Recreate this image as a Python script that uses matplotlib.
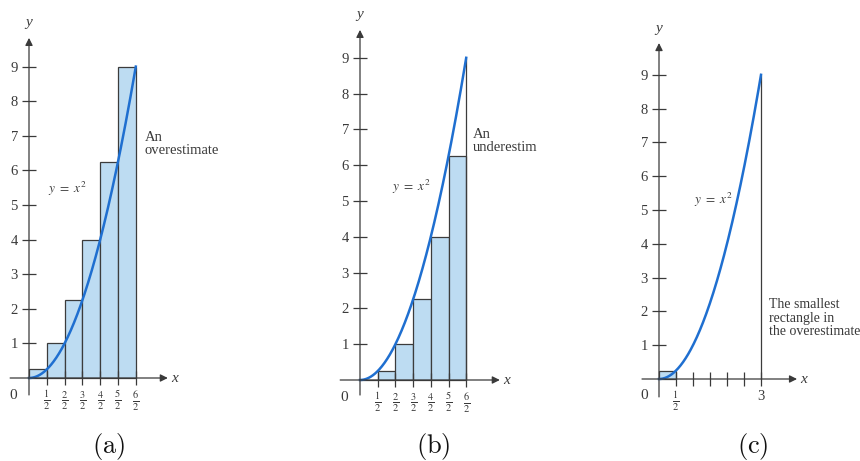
import numpy as np
import matplotlib.pyplot as plt

plt.rcParams['font.family'] = ['Liberation Serif', 'DejaVu Serif']
plt.rcParams['mathtext.fontset'] = 'stix'

W, H = 860, 461

# rectangles: left edges and heights
left_edges = [0.0, 0.5, 1.0, 1.5, 2.0, 2.5]
over_heights = [0.25, 1, 2.25, 4, 6.25, 9]
under_heights = [0, 0.25, 1, 2.25, 4, 6.25]
smallest_left = [0.0]
smallest_height = [0.25]

y_ticks = [1, 2, 3, 4, 5, 6, 7, 8, 9]
half_ticks = [0.5, 1.0, 1.5, 2.0, 2.5, 3.0]
half_labels = [r'$\frac{1}{2}$', r'$\frac{2}{2}$', r'$\frac{3}{2}$',
               r'$\frac{4}{2}$', r'$\frac{5}{2}$', r'$\frac{6}{2}$']
c_labels = [r'$\frac{1}{2}$', '', '', '', '', '3']

# the curve y = x^2 named in the figure
curve_x = np.linspace(0, 3, 200)
curve_y = curve_x ** 2

fill = '#bddcf2'
edge = '#3c3c3c'
blue = '#1f6fd0'
ink = '#3a3a3a'

fig = plt.figure(figsize=(W / 100, H / 100), dpi=100)


def panel(ox, oy, sx, sy, box):
    # box in pixels: left, top, right, bottom; origin (ox, oy) in pixels
    l, t, r, b = box
    ax = fig.add_axes([l / W, 1 - b / H, (r - l) / W, (b - t) / H])
    ax.set_xlim((l - ox) / sx, (r - ox) / sx)
    ax.set_ylim((oy - b) / sy, (oy - t) / sy)
    for s in ax.spines.values():
        s.set_visible(False)
    ax.spines['left'].set_position(('data', 0))
    ax.spines['bottom'].set_position(('data', 0))
    ax.set_yticks(y_ticks)
    ax.set_yticklabels([str(v) for v in y_ticks])
    ax.tick_params(direction='inout', length=10, width=0.9, color=ink,
                   labelcolor=ink, labelsize=10.5)
    ax.tick_params(axis='y', pad=3)
    ax.tick_params(axis='x', pad=3, labelsize=10.5)
    return ax


def axes_lines(ax, x0, x1, y0, y1):
    ap = dict(arrowstyle='-|>', lw=0.9, color=ink, mutation_scale=11,
              shrinkA=0, shrinkB=0)
    ax.annotate('', xy=(x1, 0), xytext=(x0, 0), arrowprops=ap)
    ax.annotate('', xy=(0, y1), xytext=(0, y0), arrowprops=ap)
    ax.text(x1 + 0.1, 0, 'x', style='italic', fontsize=11, color=ink,
            va='center', ha='left')
    ax.text(0, y1 + 0.25, 'y', style='italic', fontsize=11, color=ink,
            va='bottom', ha='center', clip_on=True)
    ax.text(-0.45, -0.5, '0', fontsize=11, color=ink, ha='center', va='center')


# (a) overestimate
ax = panel(29, 378, 35.6, 34.6, (0, 0, 290, 420))
ax.bar(left_edges, over_heights, width=0.5, align='edge', color=fill,
       edgecolor=edge, linewidth=0.9)
ax.plot(curve_x, curve_y, color=blue, lw=1.8)
ax.set_xticks(half_ticks)
ax.set_xticklabels(half_labels)
axes_lines(ax, -0.53, 3.9, -0.49, 9.83)
ax.text(1.07, 5.45, r'$y\ =\ x^2$', fontsize=9.5, color=ink, ha='center', va='center')
ax.text(3.25, 7.15, 'An\noverestimate', fontsize=10.5, color=ink, ha='left',
        va='top', linespacing=1.05)

# (b) underestimate
ax = panel(360, 380, 35.4, 35.8, (300, 0, 537, 420))
ax.bar(left_edges, under_heights, width=0.5, align='edge', color=fill,
       edgecolor=edge, linewidth=0.9)
ax.vlines(3, 0, 9, color=edge, lw=0.9)
ax.plot(curve_x, curve_y, color=blue, lw=1.8)
ax.set_xticks(half_ticks)
ax.set_xticklabels(half_labels)
axes_lines(ax, -0.56, 3.95, -0.42, 9.78)
ax.text(1.45, 5.4, r'$y\ =\ x^2$', fontsize=9.5, color=ink, ha='center', va='center')
ax.text(3.2, 7.05, 'An\nunderestimate', fontsize=10.5, color=ink, ha='left',
        va='top', linespacing=1.05, clip_on=True)

# (c) smallest rectangle
ax = panel(659, 379, 34.0, 33.8, (600, 0, 860, 420))
ax.bar(smallest_left, smallest_height, width=0.5, align='edge', color=fill,
       edgecolor=edge, linewidth=0.9)
ax.vlines(3, 0, 9, color=edge, lw=0.9)
ax.plot(curve_x, curve_y, color=blue, lw=1.8)
ax.set_xticks(half_ticks)
ax.set_xticklabels(c_labels)
axes_lines(ax, -0.5, 4.06, -0.53, 9.94)
ax.text(1.6, 5.3, r'$y\ =\ x^2$', fontsize=9.5, color=ink, ha='center', va='center')
ax.text(3.24, 2.4, 'The smallest\nrectangle in\nthe overestimate', fontsize=10,
        color=ink, ha='left', va='top', linespacing=1.08)

for label, xpix in [('(a)', 109), ('(b)', 433), ('(c)', 753)]:
    fig.text(xpix / W, 1 - 446 / H, r'$\mathrm{' + label + '}$', fontsize=19,
             ha='center', va='center', math_fontfamily='cm', color='#111')

fig.savefig('out.png', dpi=100)
